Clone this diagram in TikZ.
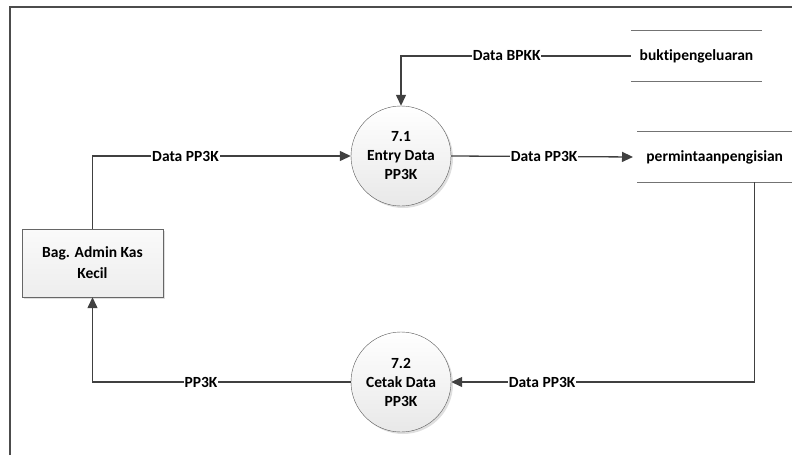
\documentclass[tikz,border=0pt]{standalone}
\usepackage{fontspec}
\setmainfont{Carlito}[Ligatures=NoCommon]
\usetikzlibrary{arrows.meta,positioning,shadows}

\begin{document}
\begin{tikzpicture}[x=1pt, y=-1pt,
  proc/.style={circle, draw=black!65, minimum size=100pt, inner sep=0pt,
    align=center, top color=white, bottom color=gray!18,
    font=\bfseries\fontsize{15.5}{19}\selectfont,
    drop shadow={shadow xshift=2pt, shadow yshift=-2pt, opacity=0.25}},
  entity/.style={draw=black!60, minimum width=141pt, minimum height=68pt,
    align=center, top color=gray!4, bottom color=gray!14,
    font=\bfseries\fontsize{15.5}{21}\selectfont,
    drop shadow={shadow xshift=2pt, shadow yshift=-2pt, opacity=0.25}},
  store/.style={minimum height=50pt, inner sep=0pt,
    font=\bfseries\fontsize{15.5}{19}\selectfont},
  flow/.style={draw=black!75, line width=1.3pt, -{Triangle[length=11pt, width=10pt]}},
  lbl/.style={fill=white, inner sep=1pt, font=\bfseries\fontsize{15.5}{19}\selectfont}
]
\useasboundingbox (0,0) rectangle (792,455);
% frame
\draw[black!70, line width=2pt] (10,455) -- (10,7) -- (792,7);

\node[proc] (p71) at (401,156) {7.1\\Entry Data\\PP3K};
\node[proc] (p72) at (401,382) {7.2\\Cetak Data\\PP3K};
\node[entity] (admin) at (92.5,263) {Bag. Admin Kas\\Kecil};
\node[store, minimum width=131pt] (bukti) at (696.5,56) {buktipengeluaran};
\node[store, minimum width=155pt, anchor=west] (perm) at (637,157) {permintaanpengisian};

% data store lines
\draw[black!55, line width=1pt] (bukti.north west) -- (bukti.north east)
  (bukti.south west) -- (bukti.south east);
\draw[black!55, line width=1pt] (perm.north west) -- (perm.north east)
  (perm.south west) -- (perm.south east);

% flows
\draw[flow] (bukti.west) -| node[lbl, pos=0.27] {Data BPKK} (p71.north);
\draw[flow, shorten >=4pt] (p71.east) -- node[lbl] {Data PP3K} (perm.west);
\draw[flow] (admin.north) |- node[lbl, pos=0.68] {Data PP3K} (p71.west);
\draw[flow] ([xshift=39.5pt]perm.south) |- node[lbl, pos=0.85] {Data PP3K} (p72.east);
\draw[flow] (p72.west) -| node[lbl, pos=0.29] {PP3K} (admin.south);
\end{tikzpicture}
\end{document}
